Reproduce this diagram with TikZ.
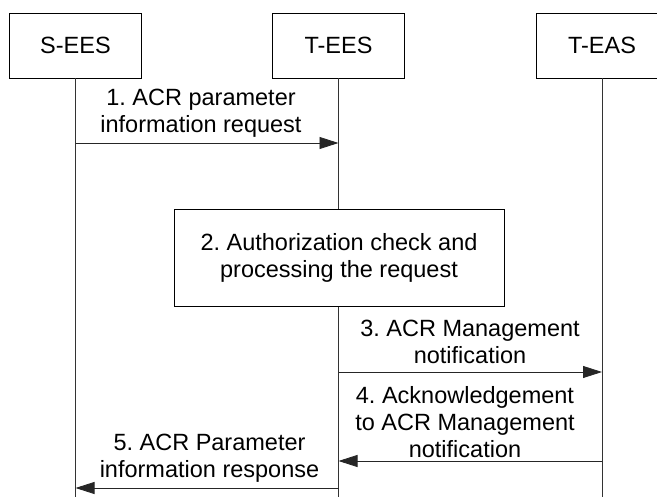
\documentclass[tikz,border=0pt]{standalone}
\usepackage{fontspec}
\setmainfont{Liberation Sans}
\usetikzlibrary{arrows.meta}
\frenchspacing
\begin{document}
\begin{tikzpicture}[x=1pt,y=1pt,
  every node/.style={font=\fontsize{23.5}{27}\selectfont, inner sep=0pt},
  actor/.style={draw, fill=white, minimum width=132pt, minimum height=65pt, line width=0.8pt},
  procbox/.style={draw, fill=white, minimum width=330pt, minimum height=97pt, align=center, line width=0.8pt},
  lifeline/.style={line width=0.8pt, draw=black!80},
  msg/.style={line width=0.8pt, draw=black!85, -{Triangle[length=19pt,width=12pt]}},
  lbl/.style={align=center}]
\useasboundingbox (0,0) rectangle (657,-497);
% actors
\node[actor] (sees) at (75.5,-45.5) {S-EES};
\node[actor] (tees) at (338.5,-45.5) {T-EES};
\node[actor] (teas) at (602,-45.5) {T-EAS};
% reference heights
\coordinate (bottom) at (0,-497);
\coordinate (y1) at (0,-143);
\coordinate (y3) at (0,-372);
\coordinate (y4) at (0,-461);
\coordinate (y5) at (0,-488);
% lifelines
\draw[lifeline] (sees.south) -- (sees.south |- bottom);
\draw[lifeline] (tees.south) -- (tees.south |- bottom);
\draw[lifeline] (teas.south) -- (teas.south |- bottom);
% step 2 box
\node[procbox] (proc) at (339,-257.5) {2. Authorization check and\\processing the request};
% messages
\draw[msg] (sees.south |- y1) -- (tees.south |- y1);
\node[lbl] (l1) at (201,-113) {1. ACR parameter\\information request};
\draw[msg] (tees.south |- y3) -- (teas.south |- y3);
\node[lbl] (l3) at (470,-341.5) {3. ACR Management\\notification};
\draw[msg] (teas.south |- y4) -- (tees.south |- y4);
\node[lbl] (l4) at (465,-422) {4. Acknowledgement\\to ACR Management\\notification};
\draw[msg] (tees.south |- y5) -- (sees.south |- y5);
\node[lbl] (l5) at (209.5,-458) {5. ACR Parameter\\information response};
\end{tikzpicture}
\end{document}
